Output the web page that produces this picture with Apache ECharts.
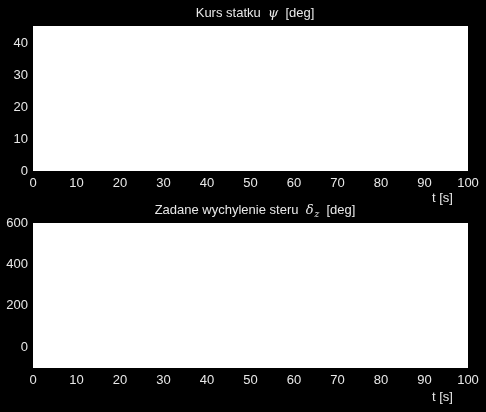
<!DOCTYPE html>
<html><head><meta charset="utf-8">
<script src="https://cdn.jsdelivr.net/npm/echarts@6/dist/echarts.min.js"></script>
<style>html,body{margin:0;padding:0;background:#000;}#c{width:486px;height:412px;}</style>
</head><body><div id="c"></div>
<script>
// Top panel: ship heading psi [deg] vs time
const xTicks = [0,10,20,30,40,50,60,70,80,90,100];
const psiRange = [0, 45.5];
const psiTicks = [0,10,20,30,40];
const psiTime = [];
const psiValues = [];
// Bottom panel: commanded rudder deflection delta_z [deg]
const deltaRange = [-100, 600];
const deltaTicks = [0,200,400,600];
const deltaTime = [];
const deltaValues = [];

const txt = '#e8e8e8';
const font = 'Liberation Sans';
const chart = echarts.init(document.getElementById('c'));
function xa(gi){
  return {gridIndex:gi,type:'value',min:0,max:100,interval:10,
    axisLine:{show:false},axisTick:{show:false},splitLine:{show:false},
    axisLabel:{color:txt,fontSize:13,fontFamily:font,margin:6}};
}
function ya(gi,r,iv){
  return {gridIndex:gi,type:'value',min:r[0],max:r[1],interval:iv,
    axisLine:{show:false},axisTick:{show:false},splitLine:{show:false},
    axisLabel:{color:txt,fontSize:13,fontFamily:font,margin:5,
      formatter:v=>(gi===0?psiTicks:deltaTicks).includes(v)?String(v):''}};
}
chart.setOption({
  backgroundColor:'#000',
  animation:false,
  title:[
    {text:'Kurs statku  {s|ψ}  [deg]',left:250,top:2,textAlign:'center',
     textStyle:{color:txt,fontSize:13,fontWeight:'normal',fontFamily:font,
       rich:{s:{color:txt,fontSize:13,fontStyle:'italic',fontFamily:'DejaVu Serif'}}}},
    {text:'Zadane wychylenie steru  {s|δ}{z|z}  [deg]',left:250,top:197,textAlign:'center',
     textStyle:{color:txt,fontSize:13,fontWeight:'normal',fontFamily:font,
       rich:{s:{color:txt,fontSize:13,fontStyle:'italic',fontFamily:'DejaVu Serif'},
             z:{color:txt,fontSize:9,fontStyle:'italic',fontFamily:'DejaVu Serif',padding:[8,0,0,1]}}}}
  ],
  graphic:[
    {type:'text',left:432,top:192,style:{text:'t [s]',fill:txt,fontSize:13,fontFamily:font}},
    {type:'text',left:432,top:391,style:{text:'t [s]',fill:txt,fontSize:13,fontFamily:font}}
  ],
  grid:[
    {left:33,top:26,width:435,height:145,show:true,backgroundColor:'#fff',borderWidth:0},
    {left:33,top:223,width:435,height:145,show:true,backgroundColor:'#fff',borderWidth:0}
  ],
  xAxis:[xa(0),xa(1)],
  yAxis:[ya(0,psiRange,5),ya(1,deltaRange,100)],
  series:[
    {type:'line',xAxisIndex:0,yAxisIndex:0,data:psiTime.map((t,i)=>[t,psiValues[i]]),showSymbol:false,lineStyle:{color:'#0000ff',width:1}},
    {type:'line',xAxisIndex:1,yAxisIndex:1,data:deltaTime.map((t,i)=>[t,deltaValues[i]]),showSymbol:false,lineStyle:{color:'#0000ff',width:1}}
  ]
});
</script></body></html>
